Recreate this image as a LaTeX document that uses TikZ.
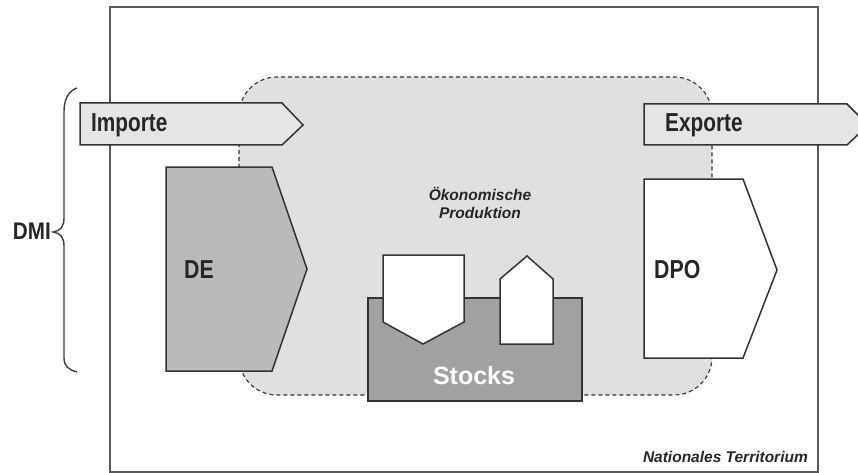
\documentclass[tikz,border=0pt]{standalone}
\usepackage{fontspec}
\setmainfont{Liberation Sans}
\usetikzlibrary{calc}
\tikzset{
  frame/.style={draw=black!65, line width=1.6pt},
  region/.style={draw=black!80, fill=black!12, line width=1.1pt, dash pattern=on 4pt off 3pt},
  flowarrow/.style={draw=black!80, fill=black!10, line width=1.5pt, line join=miter},
  greybox/.style={draw=black!80, fill=black!27, line width=1.5pt},
  stockbox/.style={draw=black!80, fill=black!37, line width=1.5pt},
  whitebox/.style={draw=black!80, fill=white, line width=1.5pt},
  bigtxt/.style={text=black!85, font=\bfseries\fontsize{26}{28}\selectfont, inner sep=0pt},
  smalltxt/.style={text=black!85, font=\bfseries\itshape\fontsize{15.5}{17}\selectfont, inner sep=0pt}
}
\begin{document}
\begin{tikzpicture}[x=1pt,y=-1pt]
\clip (0,0) rectangle (858,473);
\fill[white] (0,0) rectangle (858,473);
% national territory frame
\draw[frame] (110,7) rectangle (818,472);
% economic production region
\draw[region, rounded corners=38pt] (239,77) rectangle (712,395);
% import / export arrows
\draw[flowarrow] (80,103) -- (282,103) -- (303,125) -- (282,145) -- (80,145) -- cycle;
\draw[flowarrow] (644,104) -- (847,104) -- (868,125) -- (847,145) -- (644,145) -- cycle;
\node[bigtxt, anchor=west] (imp) at (91,125) {\scalebox{0.8}[1]{Importe}};
\node[bigtxt, anchor=west] (exp) at (665,125) {\scalebox{0.8}[1]{Exporte}};
% DE and DPO
\draw[greybox] (166,167) -- (272,167) -- (307,269) -- (272,371) -- (166,371) -- cycle;
\draw[whitebox] (644,179) -- (743,179) -- (777,270) -- (743,358) -- (644,358) -- cycle;
\node[bigtxt, anchor=west] (de) at (184,269.5) {\scalebox{0.82}[1]{DE}};
\node[bigtxt, anchor=west] (dpo) at (654,269.5) {\scalebox{0.82}[1]{DPO}};
% stocks
\draw[stockbox] (368,298) rectangle (582,401);
\draw[whitebox] (383,255) -- (464,255) -- (464,322) -- (423,344) -- (383,322) -- cycle;
\draw[whitebox] (500,344) -- (500,279) -- (527,256) -- (553,279) -- (553,344) -- cycle;
\node[bigtxt, text=white, font=\bfseries\fontsize{25}{27}\selectfont] (stocks) at (474,376) {Stocks};
% labels
\node[smalltxt] (oek1) at (480,194) {Ökonomische};
\node[smalltxt] (oek2) at (480,213) {Produktion};
\node[smalltxt, anchor=east] (nt) at (808,457) {Nationales Territorium};
% DMI brace
\draw[draw=black!75, line width=1.4pt] (77,88) .. controls (68,91) and (64,100) .. (64,112) -- (64,218) .. controls (64,227) and (60,231) .. (53,232) .. controls (60,233) and (64,237) .. (64,246) -- (64,358) .. controls (64,366) and (69,370) .. (77,372);
\node[bigtxt, anchor=east, font=\bfseries\fontsize{24}{26}\selectfont] (dmi) at (51,231) {\scalebox{0.86}[1]{DMI}};
\end{tikzpicture}
\end{document}
